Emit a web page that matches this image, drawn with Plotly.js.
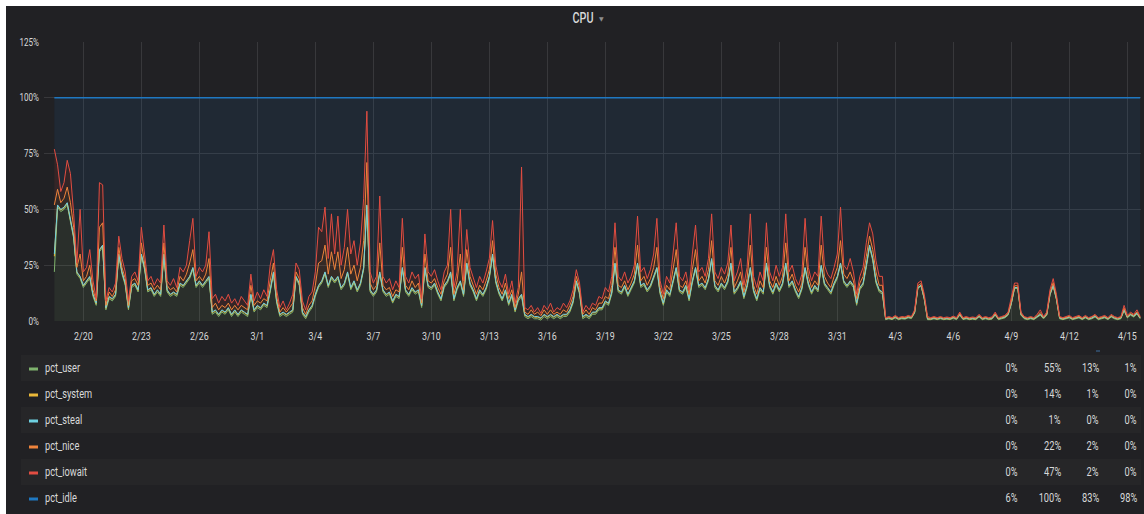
<!DOCTYPE html>
<html><head><meta charset="utf-8">
<script src="https://cdn.plot.ly/plotly-3.0.1.min.js"></script>
<style>
html,body{margin:0;padding:0;background:#ffffff;}
#chart{position:absolute;left:6px;top:6px;width:1138px;height:508px;}
</style></head><body><div id="chart"></div>
<script>
// ---- data (4-hour samples starting 2018-02-18 12:00), values in % ----
const seriesNames = ['pct_user','pct_system','pct_steal','pct_nice','pct_iowait','pct_idle'];
const legendMin = ['0%','0%','0%','0%','0%','6%'];
const legendMax = ['55%','14%','1%','22%','47%','100%'];
const legendAvg = ['13%','1%','0%','2%','2%','83%'];
const legendCurrent = ['1%','0%','0%','0%','0%','98%'];
const yTickVals = [0,25,50,75,100,125];
const yTickText = ['0%','25%','50%','75%','100%','125%'];

const pctUser = [
22,51,49,
50,52,44,37,21,19, 15,17,19,11,7,31, 33,5,10,9,11,29, 21,16,5,15,16,13, 29,23,13,14,11,13,
11,29,13,11,12,11, 16,15,17,19,23,15, 17,15,17,19,3,4, 2,4,3,5,2,4, 2,4,3,2,11,4,
6,5,7,6,13,21, 8,2,3,2,3,4, 19,16,3,1,4,6, 11,15,17,21,15,19, 17,19,14,16,21,14,
17,13,16,23,51,13, 11,13,21,13,11,12, 8,11,10,23,13,11, 14,12,13,6,23,15, 14,16,12,9,15,17,
21,9,14,17,11,25, 16,13,9,13,11,14, 19,29,17,12,9,13, 7,11,4,9,11,2, 1,2,1,1,0.4,2,
1,2,1,2,1,2, 2,4,8,17,12,1, 2,1,3,3,5,5, 8,7,12,25,13,12, 15,11,14,17,25,15,
16,13,15,19,23,12, 7,13,11,17,23,13, 12,15,9,17,23,15, 16,14,18,27,15,13, 16,14,17,25,12,14,
17,10,15,23,13,9, 14,12,25,15,12,16, 13,16,25,15,17,13, 10,14,23,16,12,15, 13,24,16,14,12,16,
19,25,17,15,17,15, 7,14,16,24,33,27, 17,13,12,0.6,1.0,0.6, 1.4,0.6,1.0,0.8,1.4,1.1,
3.6,14.6,15.6,9.6,0.6,0.6, 1.0,0.6,1.0,0.6,0.8,0.6, 1.2,0.6,2.6,0.6,1.0,0.6, 0.8,0.6,1.8,0.6,1.0,0.6,
0.8,2.6,0.6,1.0,1.4,2.6, 7.6,14.6,14.6,2.6,1.0,0.6, 1.0,0.6,1.8,2.6,1.0,2.6, 11.6,15.6,9.6,1.0,0.6,1.0,
1.4,0.6,1.0,1.4,0.6,1.4, 0.6,1.0,1.8,0.6,1.0,1.4, 0.6,1.8,1.0,0.6,1.0,4.6,
1.4,2.6,1.8,3.1,1.0
];

const pctSystem = [
7,0.7,0.7,
0.7,0.7,0.7,0.7,0.7,0.7, 0.7,0.7,0.7,0.7,0.7,0.7, 0.7,0.7,0.7,0.7,0.7,0.7, 0.7,0.7,0.7,0.7,0.7,0.7, 0.7,0.7,0.7,0.7,0.7,0.7,
0.7,0.7,0.7,0.7,0.7,0.7, 0.7,0.7,0.7,0.7,0.7,0.7, 0.7,0.7,0.7,0.7,0.7,0.7, 0.7,0.7,0.7,0.7,0.7,0.7, 0.7,0.7,0.7,0.7,0.7,0.7,
0.7,0.7,0.7,0.7,0.7,0.7, 0.7,0.7,0.7,0.7,0.7,0.7, 0.7,0.7,0.7,0.7,0.7,0.7, 0.7,0.7,0.7,0.7,0.7,0.7, 0.7,0.7,0.7,0.7,0.7,0.7,
0.7,0.7,0.7,0.7,0.7,0.7, 0.7,0.7,0.7,0.7,0.7,0.7, 0.7,0.7,0.7,0.7,0.7,0.7, 0.7,0.7,0.7,0.7,0.7,0.7, 0.7,0.7,0.7,0.7,0.7,0.7,
0.7,0.7,0.7,0.7,0.7,0.7, 0.7,0.7,0.7,0.7,0.7,0.7, 0.7,0.7,0.7,0.7,0.7,0.7, 0.7,0.7,0.7,0.7,0.7,0.7, 0.7,0.7,0.7,0.7,0.7,0.7,
0.7,0.7,0.7,0.7,0.7,0.7, 0.7,0.7,0.7,0.7,0.7,0.7, 0.7,0.7,0.7,0.7,0.7,0.7, 0.7,0.7,0.7,0.7,0.7,0.7, 0.7,0.7,0.7,0.7,0.7,0.7,
0.7,0.7,0.7,0.7,0.7,0.7, 0.7,0.7,0.7,0.7,0.7,0.7, 0.7,0.7,0.7,0.7,0.7,0.7, 0.7,0.7,0.7,0.7,0.7,0.7, 0.7,0.7,0.7,0.7,0.7,0.7,
0.7,0.7,0.7,0.7,0.7,0.7, 0.7,0.7,0.7,0.7,0.7,0.7, 0.7,0.7,0.7,0.7,0.7,0.7, 0.7,0.7,0.7,0.7,0.7,0.7, 0.7,0.7,0.7,0.7,0.7,0.7,
0.7,0.7,0.7,0.7,0.7,0.7, 0.7,0.7,0.7,0.7,0.7,0.7, 0.7,0.7,0.7,0.3,0.3,0.3, 0.3,0.3,0.3,0.3,0.3,0.3,
0.3,0.3,0.3,0.3,0.3,0.3, 0.3,0.3,0.3,0.3,0.3,0.3, 0.3,0.3,0.3,0.3,0.3,0.3, 0.3,0.3,0.3,0.3,0.3,0.3,
0.3,0.3,0.3,0.3,0.3,0.3, 0.3,0.3,0.3,0.3,0.3,0.3, 0.3,0.3,0.3,0.3,0.3,0.3, 0.3,0.3,0.3,0.3,0.3,0.3,
0.3,0.3,0.3,0.3,0.3,0.3, 0.3,0.3,0.3,0.3,0.3,0.3, 0.3,0.3,0.3,0.3,0.3,0.3,
0.3,0.3,0.3,0.3,0.3
];

const pctSteal = [
1,0.3,0.3,
0.3,0.3,0.3,0.3,0.3,0.3, 0.3,0.3,0.3,0.3,0.3,0.3, 0.3,0.3,0.3,0.3,0.3,0.3, 0.3,0.3,0.3,0.3,0.3,0.3, 0.3,0.3,0.3,0.3,0.3,0.3,
0.3,0.3,0.3,0.3,0.3,0.3, 0.3,0.3,0.3,0.3,0.3,0.3, 0.3,0.3,0.3,0.3,0.3,0.3, 0.3,0.3,0.3,0.3,0.3,0.3, 0.3,0.3,0.3,0.3,0.3,0.3,
0.3,0.3,0.3,0.3,0.3,0.3, 0.3,0.3,0.3,0.3,0.3,0.3, 0.3,0.3,0.3,0.3,0.3,0.3, 0.3,0.3,0.3,0.3,0.3,0.3, 0.3,0.3,0.3,0.3,0.3,0.3,
0.3,0.3,0.3,0.3,0.3,0.3, 0.3,0.3,0.3,0.3,0.3,0.3, 0.3,0.3,0.3,0.3,0.3,0.3, 0.3,0.3,0.3,0.3,0.3,0.3, 0.3,0.3,0.3,0.3,0.3,0.3,
0.3,0.3,0.3,0.3,0.3,0.3, 0.3,0.3,0.3,0.3,0.3,0.3, 0.3,0.3,0.3,0.3,0.3,0.3, 0.3,0.3,0.3,0.3,0.3,0.3, 0.3,0.3,0.3,0.3,0.3,0.3,
0.3,0.3,0.3,0.3,0.3,0.3, 0.3,0.3,0.3,0.3,0.3,0.3, 0.3,0.3,0.3,0.3,0.3,0.3, 0.3,0.3,0.3,0.3,0.3,0.3, 0.3,0.3,0.3,0.3,0.3,0.3,
0.3,0.3,0.3,0.3,0.3,0.3, 0.3,0.3,0.3,0.3,0.3,0.3, 0.3,0.3,0.3,0.3,0.3,0.3, 0.3,0.3,0.3,0.3,0.3,0.3, 0.3,0.3,0.3,0.3,0.3,0.3,
0.3,0.3,0.3,0.3,0.3,0.3, 0.3,0.3,0.3,0.3,0.3,0.3, 0.3,0.3,0.3,0.3,0.3,0.3, 0.3,0.3,0.3,0.3,0.3,0.3, 0.3,0.3,0.3,0.3,0.3,0.3,
0.3,0.3,0.3,0.3,0.3,0.3, 0.3,0.3,0.3,0.3,0.3,0.3, 0.3,0.3,0.3,0.1,0.1,0.1, 0.1,0.1,0.1,0.1,0.1,0.1,
0.1,0.1,0.1,0.1,0.1,0.1, 0.1,0.1,0.1,0.1,0.1,0.1, 0.1,0.1,0.1,0.1,0.1,0.1, 0.1,0.1,0.1,0.1,0.1,0.1,
0.1,0.1,0.1,0.1,0.1,0.1, 0.1,0.1,0.1,0.1,0.1,0.1, 0.1,0.1,0.1,0.1,0.1,0.1, 0.1,0.1,0.1,0.1,0.1,0.1,
0.1,0.1,0.1,0.1,0.1,0.1, 0.1,0.1,0.1,0.1,0.1,0.1, 0.1,0.1,0.1,0.1,0.1,0.1,
0.1,0.1,0.1,0.1,0.1
];

const pctNice = [
22,7,3,
4,7,8,4,2,10, 2,2,5,2,1,10, 10,1,2,1,2,3, 2,2,1,2,2,2, 5,2,2,2,2,2,
2,5,2,2,2,1, 3,2,3,6,8,2, 2,2,3,8,2,3, 2,2,2,2,2,2, 2,2,2,2,4,2,
2,2,2,2,4,4, 2,1,2,1,2,3, 2,2,2,1,2,2, 4,10,9,12,5,11, 5,11,4,6,11,6,
7,4,7,12,19,3, 2,2,13,2,2,2, 2,2,2,9,2,2, 3,2,3,1,6,2, 2,2,2,2,2,3,
11,2,3,12,2,6, 3,2,2,2,2,3, 3,6,3,2,2,3, 2,2,1,2,10,1, 1,2,1,2,1,2,
1,2,1,1,1,2, 1,2,2,2,2,1, 2,1,2,1,2,2, 2,2,3,7,2,2, 2,2,2,3,8,2,
3,2,3,4,9,2, 2,2,2,5,8,2, 2,2,2,5,8,2, 3,2,4,8,2,2, 3,2,3,7,2,3,
4,2,3,10,2,2, 3,2,7,2,2,3, 2,3,9,2,3,2, 2,2,9,3,2,2, 2,9,3,2,2,3,
4,10,3,3,4,2, 2,2,3,4,4,4, 4,2,3,0.2,0.3,0.2, 0.3,0.2,0.3,0.3,0.3,0.2,
0.4,0.8,0.8,0.8,0.4,0.2, 0.3,0.2,0.3,0.2,0.3,0.2, 0.3,0.2,0.4,0.2,0.3,0.2, 0.3,0.2,0.3,0.2,0.3,0.2,
0.3,0.4,0.2,0.3,0.3,0.4, 0.8,0.8,0.8,0.4,0.3,0.2, 0.3,0.2,0.3,0.8,0.3,0.4, 0.8,1.2,0.8,0.3,0.2,0.3,
0.3,0.2,0.3,0.3,0.2,0.3, 0.2,0.3,0.3,0.2,0.3,0.3, 0.2,0.3,0.3,0.2,0.3,0.8,
0.3,0.4,0.3,0.6,0.3
];

const pctIowait = [
25,11,5,
7,12,13,6,2,20, 4,4,7,4,1,20, 17,2,2,2,3,5, 4,3,2,2,3,2, 7,4,2,3,2,3,
3,8,2,2,4,2, 4,4,4,10,14,2, 4,4,4,12,4,4, 3,4,3,4,3,3, 2,4,3,2,5,2,
4,2,4,2,7,6, 3,2,3,1,2,4, 4,4,3,2,4,4, 6,16,13,17,7,17, 7,16,6,10,17,9,
11,7,11,19,23,5, 3,4,21,4,3,4, 3,4,2,13,4,3, 4,4,4,2,9,4, 3,4,3,2,4,4,
17,3,4,20,4,9, 4,3,3,4,3,4, 5,9,4,3,3,4, 2,4,2,3,47,2, 2,2,1,2,1,2,
2,3,1,2,2,3, 2,2,3,3,2,1, 2,2,2,2,3,2, 4,3,4,11,4,3, 4,3,3,4,13,4,
4,3,4,6,13,3, 2,4,3,7,12,4, 3,4,2,7,11,4, 4,3,5,12,4,3, 4,4,5,10,3,4,
6,3,5,14,4,3, 4,3,11,4,3,5, 4,4,13,4,4,3, 3,4,13,4,3,4, 4,13,5,4,4,4,
6,15,4,4,6,4, 2,3,4,6,6,7, 5,4,4,0.3,0.3,0.3, 0.4,0.3,0.3,0.3,0.4,0.3,
0.6,1.2,1.2,1.2,0.6,0.3, 0.3,0.3,0.3,0.3,0.3,0.3, 0.3,0.3,0.6,0.3,0.3,0.3, 0.3,0.3,0.5,0.3,0.3,0.3,
0.3,0.6,0.3,0.3,0.4,0.6, 1.2,1.2,1.2,0.6,0.3,0.3, 0.3,0.3,0.5,1.2,0.3,0.6, 1.2,1.8,1.2,0.3,0.3,0.3,
0.4,0.3,0.3,0.4,0.3,0.4, 0.3,0.3,0.5,0.3,0.3,0.4, 0.3,0.5,0.3,0.3,0.3,1.2,
0.4,0.6,0.5,0.9,0.3
];

// idle is the remainder of 100% (the stacked total is always 100%)
const pctIdle = pctUser.map((u,i) => +(100 - u - pctSystem[i] - pctSteal[i] - pctNice[i] - pctIowait[i]).toFixed(2));

const startMs = Date.UTC(2018,1,18,12,0);
const stepMs = 4*3600*1000;
const times = pctUser.map((_,i) => new Date(startMs + i*stepMs).toISOString().slice(0,16).replace('T',' '));

// ---- styling ----
const colors = ['#7eb26d','#eab839','#6ed0e0','#ef843c','#e24d42','#1f78c1'];
const fills = ['rgba(126,178,109,0.1)','rgba(234,184,57,0.1)','rgba(110,208,224,0.1)','rgba(239,132,60,0.1)','rgba(226,77,66,0.1)','rgba(31,120,193,0.1)'];
const FONT = 'Roboto, sans-serif';
const seriesData = [pctUser, pctSystem, pctSteal, pctNice, pctIowait, pctIdle];

const traces = seriesData.map((d,k) => ({
  type:'scatter', mode:'lines', x: times, y: d, name: seriesNames[k],
  stackgroup:'cpu', line:{color:colors[k], width: k===5 ? 1.6 : 1},
  fillcolor: fills[k], hoverinfo:'skip', showlegend:false
}));

// screen-pixel -> paper helpers (plot area: x 44..1141, y 42..321 in the 1144x514 window)
const PL=44, PR=1141, PT=42, PB=321;
const px = X => (X-PL)/(PR-PL);
const py = Y => (PB-Y)/(PB-PT);

const shapes = [];
const annotations = [];
const rowTop0 = 355, rowH = 26;
for (let k=0;k<6;k++){
  const top = rowTop0 + k*rowH;
  if (k%2===0) shapes.push({type:'rect', xref:'paper', yref:'paper', x0:px(21), x1:px(1141), y0:py(top), y1:py(top+rowH), fillcolor:'#262628', line:{width:0}, layer:'below'});
  const cy = top + 13;
  shapes.push({type:'rect', xref:'paper', yref:'paper', x0:px(29), x1:px(38), y0:py(cy+2.5), y1:py(cy-0.5), fillcolor:colors[k], line:{width:0}});
  annotations.push({xref:'paper', yref:'paper', x:px(43), y:py(cy), xanchor:'left', yanchor:'middle', align:'left', showarrow:false, text:seriesNames[k], font:{family:FONT, size:12, color:'#d8d9da'}});
  const cols = [legendMin[k], legendMax[k], legendAvg[k], legendCurrent[k]];
  const colX = [1020, 1063, 1101, 1139];
  cols.forEach((t,j) => annotations.push({xref:'paper', yref:'paper', x:px(colX[j]), y:py(cy), xanchor:'right', yanchor:'middle', align:'right', showarrow:false, text:t, font:{family:FONT, size:12, color:'#d8d9da'}}));
}
shapes.push({type:'line', xref:'paper', yref:'paper', x0:px(1096), x1:px(1100), y0:py(351), y1:py(351), line:{color:'#3f6e9e', width:1}});
annotations.push({xref:'paper', yref:'paper', x:px(601), y:py(18), xanchor:'center', yanchor:'middle', showarrow:false, text:'▼', font:{family:'DejaVu Sans', size:6, color:'#8e8e8e'}});

const layout = {
  width:1138, height:508,
  margin:{l:PL-6, r:1138-(PR-6), t:PT-6, b:508-(PB-6)},
  paper_bgcolor:'#212124', plot_bgcolor:'rgba(0,0,0,0)',
  font:{family:FONT, color:'#d8d9da'},
  title:{text:'CPU', font:{family:FONT, size:14, weight:500, color:'#d8d9da'}, xref:'paper', x:px(583), xanchor:'center', yref:'container', y:1-(18-6)/508, yanchor:'middle'},
  xaxis:{type:'date', range:['2018-02-17 23:10','2018-04-15 17:00'], tick0:'2018-02-20', dtick:3*86400000, tickformat:'%-m/%-d',
         showgrid:true, gridcolor:'#38383b', gridwidth:1, zeroline:false, showline:false, ticks:'', ticklabelstandoff:6,
         tickfont:{family:FONT, size:11.5, color:'#d8d9da'}, fixedrange:true},
  yaxis:{range:[0,125], tickvals:yTickVals, ticktext:yTickText, showgrid:true, gridcolor:'#38383b', gridwidth:1,
         zeroline:false, showline:false, ticks:'', ticklabelstandoff:4, tickfont:{family:FONT, size:10.5, color:'#d8d9da'}, fixedrange:true},
  showlegend:false, hovermode:false,
  shapes: shapes, annotations: annotations
};

// the reference renders its text in a narrow face: compress glyphs horizontally, keeping each anchor in place
const TEXT_SQUEEZE = 0.77;
Plotly.newPlot('chart', traces, layout, {staticPlot:true, displayModeBar:false}).then(gd => {
  gd.querySelectorAll('svg text').forEach(t => {
    if (t.textContent === '▼') return;
    const len = t.getComputedTextLength();
    if (len > 0) {
      t.setAttribute('textLength', (len*TEXT_SQUEEZE).toFixed(2));
      t.setAttribute('lengthAdjust', 'spacingAndGlyphs');
    }
  });
});
</script></body></html>
